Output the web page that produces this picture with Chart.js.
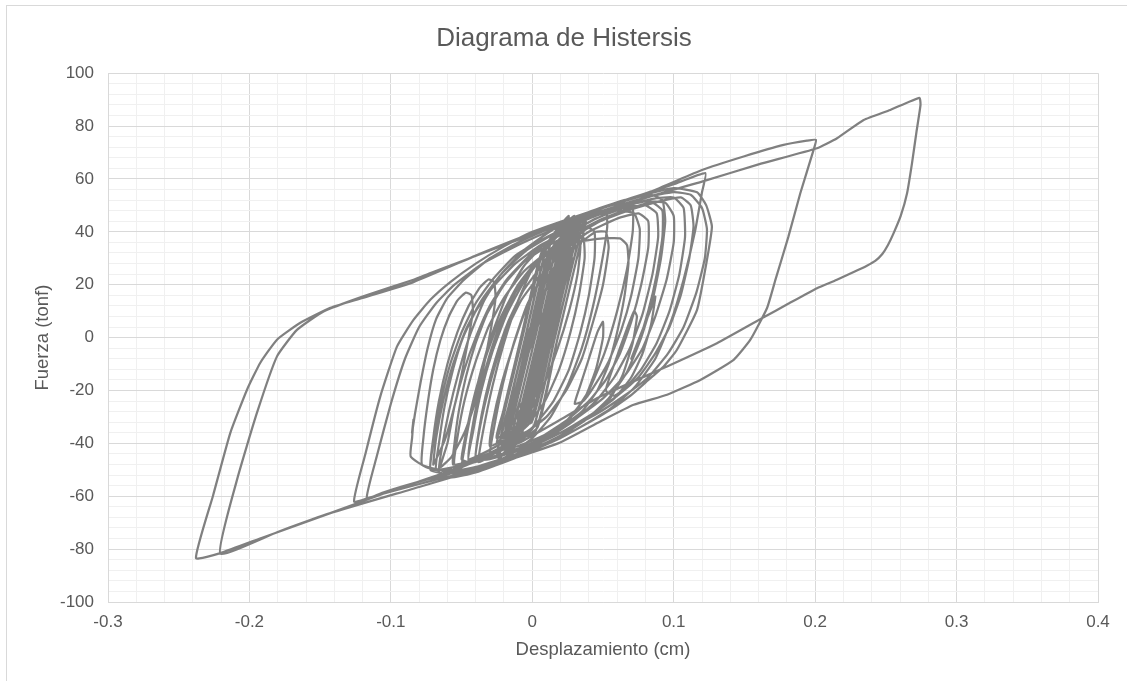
<!DOCTYPE html>
<html lang="es">
<head>
  <meta charset="UTF-8" />
  <title>Diagrama de Histersis</title>
  <script src="https://cdn.jsdelivr.net/npm/chart.js"></script>
  <style>
    body {
      margin: 0;
      background: #fff;
      overflow: hidden;
      font-family: "Liberation Sans", Arial, sans-serif;
    }

    .marco {
      position: absolute;
      left: 6px;
      top: 5px;
      width: 1300px;
      height: 900px;
      border: 1px solid #d9d9d9;
      pointer-events: none;
    }

    canvas {
      position: absolute;
      left: 0;
      top: 0;
    }
  </style>
</head>
<body>
  <div class="marco"></div>
  <canvas id="histeresis" width="1127" height="681"></canvas>

  <script>
    // Ejes: etiquetas principales (las lineas secundarias van cada 0.02 cm y 4 tonf)
    const ticksX = [-0.3, -0.2, -0.1, 0, 0.1, 0.2, 0.3, 0.4];
    const ticksY = [-100, -80, -60, -40, -20, 0, 20, 40, 60, 80, 100];

    // [desplazamiento (cm), fuerza (tonf)]
    // ciclos pequeños al inicio del registro
    const ciclosIniciales = [
      [0, 0], [0.006, 12], [0.012, 22], [0.022, 30],
      [0.0199, 22], [0.0109, 2], [0.0019, -18],
      [-0.0126, -28], [-0.0081, -18], [0.0009, 2], [0.0099, 22], [0.0244, 32], [0.0199, 22], [0.0109, 2], [0.0019, -18],
      [-0.0192, -36], [-0.0147, -26], [-0.0026, 1], [0.0096, 28], [0.0261, 38], [0.0216, 28], [0.0095, 1], [-0.0027, -26],
      [-0.0199, -42], [-0.0154, -32], [-0.0006, 1], [0.0143, 34], [0.0328, 44], [0.0283, 34], [0.0135, 1], [-0.0014, -32],
      [-0.0151, -38], [-0.0106, -28], [0.0025, 1], [0.0155, 30], [0.032, 40], [0.0275, 30], [0.0145, 1], [0.0014, -28],
      [-0.0248, -44], [-0.0203, -34], [-0.0046, 1], [0.0112, 36], [0.0297, 46], [0.0252, 36], [0.0095, 1], [-0.0063, -34],
      [-0.0124, -32], [-0.0079, -22], [0.0025, 1], [0.0128, 24], [0.0273, 34], [0.0228, 24], [0.0125, 1], [0.0021, -22],
      [-0.019, -40], [-0.0145, -30], [-0.0005, 1], [0.0134, 32], [0.0299, 42], [0.0254, 32], [0.0115, 1], [-0.0025, -30],
      [-0.0212, -36], [-0.0167, -26], [-0.0045, 1], [0.0076, 28], [0.0241, 38], [0.0196, 28], [0.0075, 1], [-0.0047, -26],
      [-0.0178, -44], [-0.0133, -34], [0.002, 0], [0.0173, 34], [0.0358, 44], [0.0313, 34], [0.016, 0], [0.0007, -34],
      [-0.0191, -38], [-0.0146, -28], [-0.0015, 1], [0.0115, 30], [0.028, 40], [0.0235, 30], [0.0105, 1], [-0.0026, -28],
      [-0.0189, -42], [-0.0144, -32], [0, 0], [0.0144, 32], [0.0329, 42], [0.0284, 32], [0.014, 0], [-0.0004, -32],
      [-0.0183, -34], [-0.0138, -24], [-0.0025, 1], [0.0087, 26], [0.0232, 36], [0.0187, 26], [0.0075, 1], [-0.0038, -24],
      [-0.025, -40], [-0.0205, -30], [-0.0061, 2], [0.0083, 34], [0.0248, 44], [0.0203, 34], [0.0059, 2], [-0.0085, -30],
      [-0.0167, -46], [-0.0122, -36], [0.0027, -3], [0.0175, 30], [0.036, 40], [0.0315, 30], [0.0167, -3], [0.0018, -36],
      [-0.0221, -38], [-0.0176, -28], [-0.0032, 4], [0.0112, 36], [0.0257, 46], [0.0212, 36], [0.0068, 4], [-0.0076, -28],
      [-0.0158, -44], [-0.0113, -34], [0.0027, -3], [0.0166, 28], [0.0331, 38], [0.0286, 28], [0.0147, -3], [0.0007, -34],
      [-0.0189, -42], [-0.0144, -32], [0, 0], [0.0144, 32], [0.0269, 42], [0.0224, 32], [0.008, 0], [-0.0064, -32],
      [-0.0162, -36], [-0.0117, -26], [0.0018, 4], [0.0153, 34], [0.0338, 44], [0.0293, 34], [0.0158, 4], [0.0023, -26],
      [-0.0237, -46], [-0.0192, -36], [-0.003, 0], [0.0132, 36], [0.0297, 46], [0.0252, 36], [0.009, 0], [-0.0072, -36],
      [-0.014, -40], [-0.0095, -30], [0.004, 0], [0.0175, 30], [0.032, 40], [0.0275, 30], [0.014, 0], [0.0005, -30],
      [-0.0251, -38], [-0.0206, -28], [-0.0071, 2], [0.0064, 32], [0.0229, 42], [0.0184, 32], [0.0049, 2], [-0.0086, -28],
      [-0.0138, -44], [-0.0093, -34], [0.006, 0], [0.0213, 34], [0.0378, 44], [0.0333, 34], [0.018, 0], [0.0037, -34]
    ];

    // ciclos intermedios, varios con inversion antes de llegar a la envolvente
    const ciclosIntermedios = [
      [-0.02, -42], [-0.045, -47],
      [-0.042, -36], [-0.036, -20], [-0.028, -5], [-0.018, 9], [-0.006, 21], [0.008, 31], [0.025, 39], [0.045, 45], [0.065, 49], [0.08, 50], [0.088, 47],
      [0.089, 38], [0.085, 24], [0.078, 9], [0.069, -4], [0.058, -15], [0.045, -24], [0.028, -32], [0.008, -39], [-0.015, -45], [-0.04, -50], [-0.06, -51.5], [-0.072, -50],
      [-0.07, -38], [-0.066, -24], [-0.06, -10], [-0.053, 2], [-0.045, 12], [-0.037, 19], [-0.031, 22], [-0.027, 21],
      [-0.026, 15], [-0.029, 4], [-0.034, -10], [-0.04, -24], [-0.048, -36], [-0.057, -45], [-0.065, -49],
      [-0.06, -40], [-0.055, -26], [-0.048, -12], [-0.04, 0], [-0.03, 12], [-0.018, 22], [-0.002, 31], [0.018, 39], [0.04, 45], [0.062, 49], [0.085, 52.5], [0.1, 53], [0.107, 49],
      [0.108, 38], [0.104, 24], [0.097, 10], [0.088, -2], [0.077, -12], [0.066, -19], [0.058, -22], [0.052, -20],
      [0.058, -10], [0.066, 2], [0.072, 10], [0.074, 8],
      [0.071, -2], [0.064, -14], [0.055, -23], [0.04, -30], [0.02, -37], [0, -42], [-0.025, -47], [-0.05, -50], [-0.065, -50], [-0.078, -48],
      [-0.077, -38], [-0.074, -25], [-0.07, -12], [-0.065, -1], [-0.059, 8], [-0.053, 14], [-0.047, 17], [-0.043, 16],
      [-0.042, 10], [-0.045, 0], [-0.05, -14], [-0.056, -28], [-0.062, -39], [-0.068, -46], [-0.07, -48],
      [-0.068, -38], [-0.063, -24], [-0.056, -10], [-0.047, 3], [-0.036, 14], [-0.022, 24], [-0.004, 33], [0.018, 40], [0.04, 45.5], [0.06, 48], [0.072, 47],
      [0.076, 41], [0.075, 30], [0.07, 16], [0.063, 3], [0.054, -9], [0.043, -19], [0.036, -24], [0.03, -25],
      [0.034, -18], [0.04, -8], [0.046, 2], [0.05, 6],
      [0.05, 0], [0.045, -12], [0.037, -23], [0.025, -31], [0.008, -38], [-0.012, -43], [-0.03, -46], [-0.04, -46],
      [-0.038, -36], [-0.033, -22], [-0.026, -8], [-0.017, 6], [-0.006, 18], [0.008, 28], [0.026, 37], [0.048, 44], [0.07, 48.5], [0.09, 51.5], [0.105, 53], [0.112, 50],
      [0.114, 42], [0.111, 30], [0.105, 16], [0.097, 4], [0.087, -6], [0.075, -15], [0.06, -22], [0.042, -29], [0.02, -36], [-0.005, -42], [-0.025, -45], [-0.04, -46.5],
      [-0.038, -37], [-0.033, -24], [-0.026, -10], [-0.018, 3], [-0.008, 14], [0.003, 22], [0.012, 26], [0.018, 26],
      [0.02, 20], [0.017, 8], [0.011, -6], [0.003, -19], [-0.007, -31], [-0.015, -38]
    ];

    // ciclos medianos crecientes
    const ciclosMedios = [
      [-0.03, -45], [-0.038, -47],
      [-0.035, -36], [-0.028, -18], [-0.02, -2], [-0.01, 14], [0, 26], [0.012, 35], [0.025, 42], [0.04, 46], [0.052, 48],
      [0.053, 42], [0.049, 28], [0.043, 12], [0.035, -4], [0.025, -18], [0.013, -30], [0, -38], [-0.018, -45], [-0.035, -49], [-0.05, -51],
      [-0.048, -42], [-0.043, -28], [-0.036, -12], [-0.028, 2], [-0.018, 16], [-0.006, 27], [0.01, 36], [0.03, 44], [0.05, 49], [0.064, 51], [0.071, 49],
      [0.071, 40], [0.067, 26], [0.06, 10], [0.051, -6], [0.04, -20], [0.026, -31], [0.008, -39], [-0.015, -46], [-0.04, -51], [-0.058, -53], [-0.066, -51],
      [-0.064, -42], [-0.059, -28], [-0.052, -13], [-0.044, 1], [-0.034, 14], [-0.022, 24], [-0.006, 33], [0.015, 41], [0.04, 47.5], [0.065, 52], [0.084, 54], [0.092, 52],
      [0.094, 44], [0.091, 30], [0.085, 14], [0.077, 0], [0.067, -13], [0.054, -23], [0.038, -31], [0.018, -38], [-0.005, -44], [-0.03, -49], [-0.055, -51], [-0.075, -49], [-0.086, -45],
      [-0.085, -38], [-0.084, -31], [-0.085, -36], [-0.083, -29], [-0.079, -17], [-0.074, -4], [-0.068, 7], [-0.06, 15], [-0.048, 22], [-0.03, 30], [-0.01, 36], [0.02, 43], [0.05, 49], [0.08, 54], [0.1, 56.5],
      [0.1165, 55], [0.123, 50], [0.127, 42], [0.1235, 29.4], [0.1165, 10.5], [0.1023, -4.6], [0.0929, -10.9], [0.08, -17], [0.0693, -22], [0.05, -29], [0.02, -38], [-0.01, -45], [-0.04, -50], [-0.07, -54], [-0.095, -57.5], [-0.112, -60], [-0.126, -62]
    ];

    // las dos incursiones grandes (0.20 / -0.22 y 0.27 / -0.24 cm)
    const ciclosMayores = [
      [-0.118, -44], [-0.1075, -22.3], [-0.0957, -3.4], [-0.084, 6.7], [-0.0721, 14.3], [-0.058, 21], [-0.04, 28], [-0.02, 34.5], [0, 40], [0.04, 47.5], [0.0836, 55.2], [0.12, 63.4], [0.15, 68.6], [0.1777, 72.9], [0.1942, 74.5], [0.2006, 74.8],
      [0.1989, 71], [0.1895, 54.6], [0.181, 38], [0.172, 22], [0.166, 11.2], [0.1542, -0.8], [0.1424, -8.4], [0.1188, -16], [0.0953, -21.6], [0.0717, -25.4], [0.0481, -31.7], [0.0186, -39.9], [-0.03, -48.5], [-0.08, -56.5], [-0.1428, -66.4], [-0.18, -73.5], [-0.2206, -81.7],
      [-0.2088, -53.8], [-0.1947, -28.5], [-0.1805, -7.1], [-0.1664, 2.9], [-0.1476, 9.9], [-0.12, 15.5], [-0.084, 21.9], [-0.072, 24.4], [0, 38.9], [0.0836, 53.4], [0.12, 59], [0.16, 65.5], [0.2013, 71.6], [0.2155, 75.4], [0.2343, 82.3], [0.2531, 86.1], [0.2737, 90.7],
      [0.2745, 88], [0.2717, 78], [0.2685, 66], [0.265, 54.6], [0.2605, 46], [0.2555, 39.5], [0.2515, 35], [0.2475, 31.6], [0.2425, 29], [0.2366, 27.2], [0.228, 25], [0.215, 21.8], [0.2013, 18.7], [0.18, 12.5], [0.1636, 7.7], [0.1306, -2.1], [0.0953, -10.9], [0.0481, -22.3], [0.02, -31], [-0.01, -40], [-0.05, -49], [-0.1, -58], [-0.1428, -66.4], [-0.19, -75.5], [-0.2206, -81.5], [-0.2378, -83.4],
      [-0.2257, -59.7], [-0.2135, -36], [-0.2017, -19.7], [-0.1923, -9.5], [-0.1805, -0.8], [-0.164, 5.6], [-0.1428, 11.3], [-0.12, 15], [-0.084, 21], [-0.04, 31], [0, 39.5], [0.05, 49], [0.1, 58], [0.1224, 62.2],
      [0.12, 55], [0.115, 40], [0.107, 22], [0.098, 6], [0.087, -8], [0.072, -19], [0.055, -27], [0.03, -35], [0, -42], [-0.04, -49], [-0.08, -54.5], [-0.105, -58.5], [-0.117, -60.7]
    ];

    // ciclos decrecientes hasta el final del registro
    const ciclosFinales = [
      [-0.11, -45], [-0.1, -25], [-0.09, -8], [-0.08, 4], [-0.068, 13], [-0.055, 20], [-0.035, 28], [-0.01, 35], [0.02, 42], [0.05, 48], [0.08, 53], [0.1, 55], [0.112, 54],
      [0.12, 49], [0.1235, 41], [0.122, 30], [0.116, 17], [0.107, 4], [0.096, -6], [0.082, -15], [0.065, -22], [0.045, -29], [0.02, -36], [-0.01, -42], [-0.04, -47], [-0.06, -49.5], [-0.072, -50],
      [-0.07, -40], [-0.065, -25], [-0.058, -10], [-0.05, 2], [-0.04, 13], [-0.028, 22], [-0.012, 31], [0.01, 38], [0.035, 44], [0.06, 49], [0.08, 51.5], [0.094, 51],
      [0.1, 46], [0.1, 36], [0.095, 22], [0.087, 8], [0.078, -4], [0.066, -14], [0.05, -23], [0.03, -31], [0.008, -38], [-0.015, -43], [-0.04, -47], [-0.055, -48],
      [-0.053, -38], [-0.048, -24], [-0.04, -9], [-0.031, 4], [-0.02, 15], [-0.006, 25], [0.01, 32], [0.03, 36], [0.05, 37.5], [0.062, 37.5],
      [0.067, 35], [0.068, 28], [0.065, 15], [0.06, 2], [0.054, -10], [0.046, -20], [0.035, -28], [0.02, -34], [0, -40], [-0.025, -45], [-0.045, -47], [-0.05, -46],
      [-0.046, -34], [-0.04, -20], [-0.032, -6], [-0.022, 8], [-0.01, 20], [0.005, 30], [0.025, 38], [0.05, 45], [0.07, 49], [0.085, 51],
      [0.092, 48], [0.092, 38], [0.088, 24], [0.082, 10], [0.075, -2], [0.07, -8], [0.078, 3], [0.084, 11], [0.087, 15.5], [0.084, 5], [0.078, -6], [0.07, -15], [0.058, -23], [0.04, -30], [0.02, -36], [0, -41], [-0.02, -44], [-0.03, -45],
      [-0.027, -34], [-0.021, -18], [-0.013, -2], [-0.004, 12], [0.008, 24], [0.022, 33], [0.04, 40], [0.06, 45], [0.075, 47],
      [0.082, 44], [0.082, 34], [0.077, 20], [0.07, 6], [0.062, -6], [0.052, -16], [0.04, -24], [0.025, -31], [0.008, -37], [-0.01, -41], [-0.02, -42],
      [-0.018, -32], [-0.012, -16], [-0.004, 0], [0.006, 14], [0.018, 26], [0.032, 35], [0.045, 40], [0.052, 40],
      [0.054, 34], [0.05, 20], [0.043, 6], [0.035, -8], [0.024, -20], [0.01, -30], [-0.01, -38], [-0.035, -45], [-0.055, -49], [-0.068, -50],
      [-0.066, -40], [-0.062, -26], [-0.056, -12], [-0.049, 0], [-0.04, 10], [-0.028, 19], [-0.012, 28], [0.006, 35], [0.025, 40], [0.038, 42],
      [0.044, 40], [0.044, 30], [0.04, 16], [0.034, 2], [0.026, -12], [0.015, -24], [0, -34], [-0.02, -41], [-0.04, -46], [-0.056, -48],
      [-0.055, -40], [-0.052, -28], [-0.047, -15], [-0.04, -2], [-0.032, 9], [-0.02, 20], [-0.005, 29], [0.012, 35], [0.028, 39],
      [0.036, 38], [0.037, 30], [0.033, 16], [0.027, 2], [0.019, -12], [0.009, -24], [-0.005, -34], [-0.025, -41], [-0.045, -46],
      [-0.043, -36], [-0.038, -22], [-0.031, -8], [-0.022, 6], [-0.011, 18], [0.003, 28], [0.018, 35], [0.03, 38],
      [0.034, 35], [0.032, 24], [0.026, 10], [0.018, -4], [0.008, -18], [-0.004, -30], [-0.018, -38], [-0.03, -41],
      [-0.028, -32], [-0.022, -18], [-0.014, -4], [-0.005, 10], [0.006, 22], [0.018, 31], [0.026, 34],
      [0.028, 30], [0.024, 18], [0.017, 4], [0.009, -10], [0, -22], [-0.01, -30], [-0.016, -32],
      [-0.012, -22], [-0.004, -8], [0.005, 6], [0.012, 14], [0.014, 12], [0.01, 4], [0.006, 0]
    ];

    const trayectoria = [...ciclosIniciales, ...ciclosIntermedios, ...ciclosMedios, ...ciclosMayores, ...ciclosFinales]
      .map(([x, y]) => ({ x, y }));

    const fuente = '"Liberation Sans", Arial, sans-serif';
    const gris = '#595959';

    const esPrincipal = (lista, v) => lista.some(t => Math.abs(t - v) < 1e-9);

    new Chart(document.getElementById('histeresis'), {
      type: 'scatter',
      data: {
        datasets: [{
          data: trayectoria,
          showLine: true,
          borderColor: '#808080',
          borderWidth: 2.25,
          pointRadius: 0,
          tension: 0.15,
          borderJoinStyle: 'round',
          borderCapStyle: 'round'
        }]
      },
      options: {
        responsive: false,
        animation: false,
        // el margen izquierdo deja el titulo centrado en el lienzo
        layout: { padding: { left: 30, right: 29, top: 0, bottom: 0 } },
        plugins: {
          legend: { display: false },
          tooltip: { enabled: false },
          title: {
            display: true,
            text: 'Diagrama de Histersis',
            color: gris,
            font: { family: fuente, size: 26, weight: 'normal' },
            padding: { top: 23, bottom: 19 }
          }
        },
        scales: {
          x: {
            type: 'linear',
            min: -0.3,
            max: 0.4,
            afterFit: s => { s.height = 79; },
            border: { color: '#d9d9d9' },
            grid: {
              drawTicks: false,
              color: c => esPrincipal(ticksX, c.tick.value) ? '#d9d9d9' : '#f0f0f0'
            },
            ticks: {
              stepSize: 0.02,
              autoSkip: false,
              maxRotation: 0,
              padding: 10,
              color: gris,
              font: { family: fuente, size: 17 },
              callback: v => esPrincipal(ticksX, v) ? String(Number(v.toFixed(1))) : ''
            },
            title: {
              display: true,
              text: 'Desplazamiento (cm)',
              color: gris,
              font: { family: fuente, size: 18.5 },
              padding: { top: 0, bottom: 20 }
            }
          },
          y: {
            type: 'linear',
            min: -100,
            max: 100,
            afterFit: s => { s.width = 78; },
            border: { color: '#d9d9d9' },
            grid: {
              drawTicks: false,
              color: c => esPrincipal(ticksY, c.tick.value) ? '#d9d9d9' : '#f0f0f0'
            },
            ticks: {
              stepSize: 4,
              autoSkip: false,
              padding: 14,
              color: gris,
              font: { family: fuente, size: 17 },
              callback: v => esPrincipal(ticksY, v) ? String(v) : ''
            },
            title: {
              display: true,
              text: 'Fuerza (tonf)',
              color: gris,
              font: { family: fuente, size: 18.5 },
              padding: { top: 2, bottom: 0 }
            }
          }
        }
      }
    });
  </script>
</body>
</html>
